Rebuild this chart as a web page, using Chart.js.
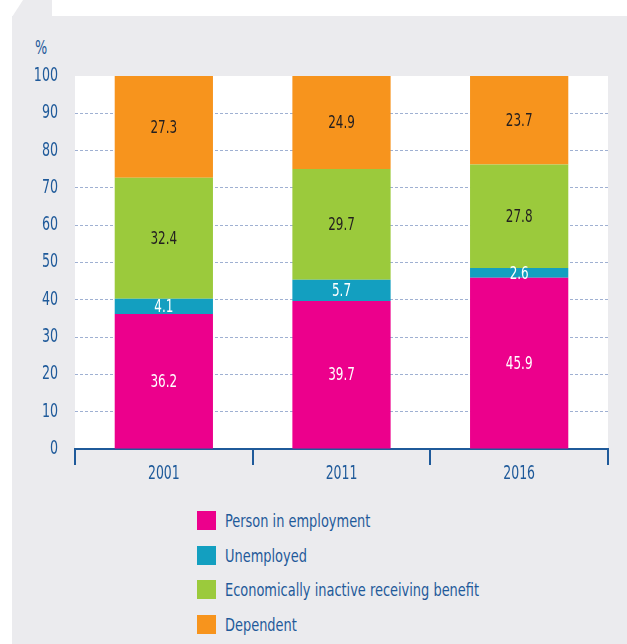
<!DOCTYPE html>
<html>
<head>
<meta charset="utf-8">
<script src="https://cdn.jsdelivr.net/npm/chart.js"></script>
<style>
  body { margin: 0; width: 627px; height: 644px; background: #fff; position: relative; overflow: hidden;
         font-family: "DejaVu Sans Condensed", "DejaVu Sans", sans-serif; }
  #panel { position: absolute; left: 12px; top: 16px; right: 0; bottom: 0; background: #ebebee; }
  #tab { position: absolute; left: 0; top: 0; width: 52px; height: 17px; background: #ebebee;
         clip-path: polygon(12px 17px, 23px 0, 52px 0, 52px 17px); }
  #unit { position: absolute; left: 35px; top: 36px; font-size: 19px; color: #1f5a9a;
          transform: scaleX(0.75); transform-origin: left center; }
  #chartBox { position: absolute; left: 0; top: 0; width: 627px; height: 490px; }
  #legend { position: absolute; left: 197px; top: 0; }
  .item { position: absolute; left: 0; display: flex; align-items: center; white-space: nowrap;
          font-size: 18px; color: #1f5a9a; height: 19px; }
  .swatch { width: 19px; height: 19px; margin-right: 9px; flex: none; }
  .item span.txt { display: inline-block; transform: scaleX(0.8); transform-origin: left center; }
</style>
</head>
<body>
<div id="tab"></div>
<div id="panel"></div>
<div id="unit">%</div>
<div id="chartBox"><canvas id="chart" width="627" height="490"></canvas></div>
<div id="legend"></div>
<script>
// Data
const years = ["2001", "2011", "2016"];
const employed = [36.2, 39.7, 45.9];
const unemployed = [4.1, 5.7, 2.6];
const inactiveBenefit = [32.4, 29.7, 27.8];
const dependent = [27.3, 24.9, 23.7];

const seriesNames = ["Person in employment", "Unemployed", "Economically inactive receiving benefit", "Dependent"];
const seriesColors = ["#ec008c", "#139fc0", "#9bca3c", "#f7941d"];
const labelColors = ["#ffffff", "#ffffff", "#231f20", "#231f20"];

const blue = "#1f5a9a";
const fontFamily = '"DejaVu Sans Condensed", "DejaVu Sans", sans-serif';

// squeeze text horizontally (the original uses a condensed face)
function narrowText(ctx, text, x, y, sx, align) {
    ctx.save();
    ctx.translate(x, y);
    ctx.scale(sx, 1);
    ctx.textAlign = align;
    ctx.fillText(text, 0, 0);
    ctx.restore();
}

// white plot background
const plotBackground = {
    id: "plotBackground",
    beforeDraw(chart) {
        const { ctx, chartArea } = chart;
        ctx.save();
        ctx.fillStyle = "#ffffff";
        ctx.fillRect(chartArea.left, chartArea.top, chartArea.right - chartArea.left, chartArea.bottom - chartArea.top);
        ctx.restore();
    },
};

// axis tick labels, placed by the chart's own scales
const narrowTicks = {
    id: "narrowTicks",
    afterDraw(chart) {
        const ctx = chart.ctx;
        const x = chart.scales.x;
        const y = chart.scales.y;
        ctx.save();
        ctx.fillStyle = blue;
        ctx.textBaseline = "middle";
        ctx.font = "19px " + fontFamily;
        y.ticks.forEach((t, i) => {
            narrowText(ctx, t.label, y.right - 17, y.getPixelForTick(i), 0.74, "right");
        });
        ctx.font = "19px " + fontFamily;
        x.ticks.forEach((t, i) => {
            narrowText(ctx, t.label, x.getPixelForTick(i), x.top + 25, 0.73, "center");
        });
        ctx.restore();
    },
};

// value labels in the middle of each segment
const segmentLabels = {
    id: "segmentLabels",
    afterDatasetsDraw(chart) {
        const ctx = chart.ctx;
        ctx.save();
        ctx.font = "18px " + fontFamily;
        ctx.textBaseline = "middle";
        chart.data.datasets.forEach((ds, i) => {
            const meta = chart.getDatasetMeta(i);
            ctx.fillStyle = labelColors[i];
            meta.data.forEach((bar, j) => {
                narrowText(ctx, ds.data[j].toFixed(1), bar.x, (bar.y + bar.base) / 2 + 1, 0.74, "center");
            });
        });
        ctx.restore();
    },
};

const valueSets = [employed, unemployed, inactiveBenefit, dependent];

new Chart(document.getElementById("chart").getContext("2d"), {
    type: "bar",
    data: {
        labels: years,
        datasets: valueSets.map((values, i) => ({
            label: seriesNames[i],
            data: values,
            backgroundColor: seriesColors[i],
            borderWidth: 0,
            barPercentage: 0.553,
            categoryPercentage: 1,
        })),
    },
    options: {
        responsive: false,
        animation: false,
        layout: { padding: { top: 76, right: 19, left: 0, bottom: 0 } },
        plugins: { legend: { display: false }, tooltip: { enabled: false } },
        scales: {
            x: {
                stacked: true,
                afterFit: (scale) => { scale.height = 41; },
                grid: {
                    offset: true,
                    drawOnChartArea: false,
                    drawTicks: true,
                    tickLength: 16,
                    color: blue,
                    lineWidth: 2,
                },
                border: { display: true, color: blue, width: 2 },
                ticks: { display: false },
            },
            y: {
                stacked: true,
                min: 0,
                max: 100,
                afterFit: (scale) => { scale.width = 75; },
                ticks: { stepSize: 10, display: false },
                grid: {
                    drawTicks: false,
                    lineWidth: 1,
                    color: (c) => (c.tick && (c.tick.value === 0 || c.tick.value === 100)) ? "rgba(0,0,0,0)" : "#9fb0d2",
                },
                border: { display: false, dash: [3, 2] },
            },
        },
    },
    plugins: [plotBackground, segmentLabels, narrowTicks],
});

// Legend
const legend = document.getElementById("legend");
seriesNames.forEach((name, i) => {
    const item = document.createElement("div");
    item.className = "item";
    item.style.top = (511 + i * 34.5) + "px";
    const sw = document.createElement("span");
    sw.className = "swatch";
    sw.style.background = seriesColors[i];
    const txt = document.createElement("span");
    txt.className = "txt";
    txt.textContent = name;
    item.appendChild(sw);
    item.appendChild(txt);
    legend.appendChild(item);
});
</script>
</body>
</html>
